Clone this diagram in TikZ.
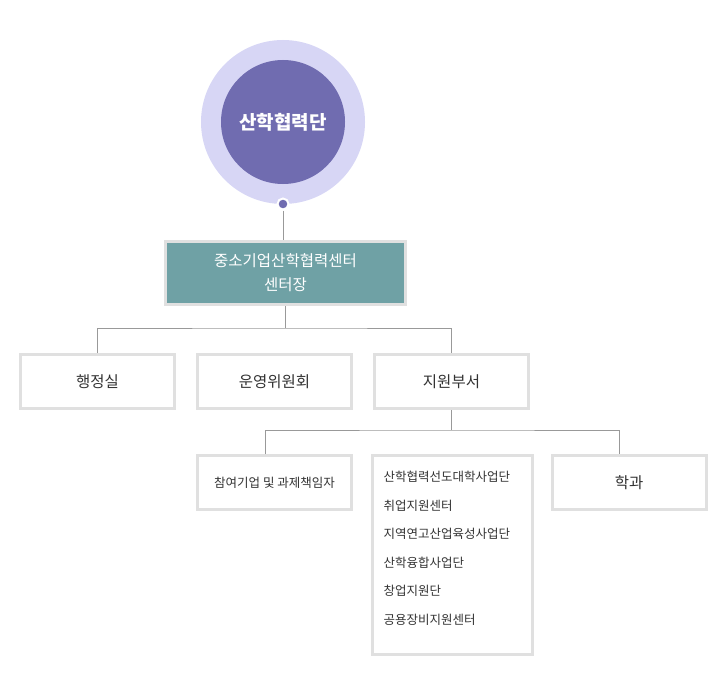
\documentclass[tikz,border=0pt]{standalone}
\usepackage{fontspec}
\newfontfamily\cjk{Noto Sans CJK KR}
\begin{document}
\begin{tikzpicture}[x=1pt,y=-1pt,
 bx/.style={draw=black!12,line width=3pt,fill=white,inner sep=0pt,font=\cjk\fontsize{15.5}{18}\selectfont,text=black!80},
 ln/.style={draw=black!40,line width=0.7pt}]
\useasboundingbox (0,0) rectangle (727,695);
\fill[fill={rgb,255:red,215;green,214;blue,245}] (283,122) circle (82);
\node[circle,fill={rgb,255:red,112;green,108;blue,176},minimum size=124pt,text=white,font=\cjk\fontsize{19}{22}\selectfont\bfseries] (c) at (283,122) {산학협력단};
\node[circle,fill={rgb,255:red,112;green,108;blue,176},draw=white,line width=2pt,minimum size=11pt,inner sep=0pt] (d) at (283,204) {};
\node[bx,fill={rgb,255:red,111;green,161;blue,165},text=white,minimum width=240pt,minimum height=63pt,align=center,font=\cjk\fontsize{15.5}{24}\selectfont] (m) at (285.5,273) {중소기업산학협력센터\\센터장};
\node[bx,minimum width=154pt,minimum height=54pt] (a1) at (97.5,381.5) {행정실};
\node[bx,minimum width=154pt,minimum height=54pt] (a2) at (274.5,381.5) {운영위원회};
\node[bx,minimum width=154pt,minimum height=54pt] (a3) at (451.5,381.5) {지원부서};
\node[bx,minimum width=154pt,minimum height=54pt,font=\cjk\fontsize{12.5}{14}\selectfont] (b1) at (274.5,482.5) {참여기업 및 과제책임자};
\node[bx,minimum width=160pt,minimum height=199pt] (b2) at (452,555) {};
\node[anchor=north west,align=left,font=\cjk\fontsize{12.5}{28.5}\selectfont,text=black!80] (t) at (380,468) {산학협력선도대학사업단\\취업지원센터\\지역연고산업육성사업단\\산학융합사업단\\창업지원단\\공용장비지원센터};
\node[bx,minimum width=154pt,minimum height=54pt] (b3) at (629,482.5) {학과};
\draw[ln] (d) -- (d |- m.north);
\coordinate (h1) at (285,328);
\draw[ln] (m.south -| h1) -- (h1);
\draw[ln] (a1.north) |- (h1) -| (a3.north);
\coordinate (h2) at (451.5,430);
\draw[ln] (a3.south) -- (h2);
\draw[ln] (b1.north -| 265,0) |- (h2) -| (b3.north -| 619,0);
\end{tikzpicture}
\end{document}
